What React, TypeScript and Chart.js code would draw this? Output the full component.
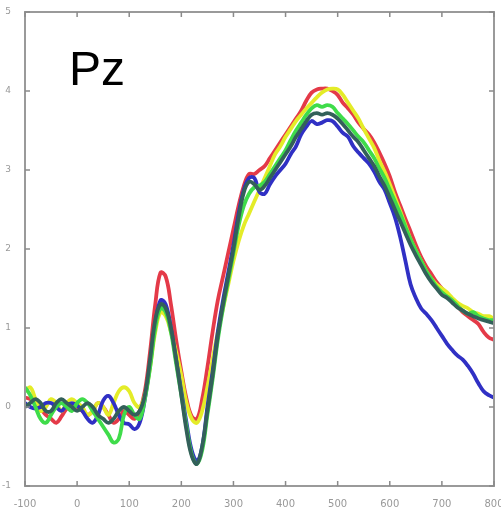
import React, { useEffect, useRef } from "react";
import { Chart, registerables } from "chart.js";

Chart.register(...registerables);

const times: number[] = [];
for (let t = -100; t <= 800; t += 10) times.push(t);

const xTicks = [-100, 0, 100, 200, 300, 400, 500, 600, 700, 800];
const yTicks = [-1, 0, 1, 2, 3, 4, 5];
const channelLabel = "Pz";

const red = [
  0.12, 0.1, 0.05, -0.02, -0.1, -0.15, -0.2, -0.12, -0.02, 0.02,
  0.0, -0.05, -0.1, -0.05, 0.05, 0.0, -0.1, -0.2, -0.15, -0.05,
  -0.1, -0.15, -0.05, 0.2, 0.7, 1.3, 1.7, 1.65, 1.3, 0.85,
  0.45, 0.1, -0.12, -0.15, 0.1, 0.5, 0.95, 1.35, 1.65, 1.95,
  2.25, 2.55, 2.8, 2.95, 2.95, 3.0, 3.05, 3.15, 3.25, 3.35,
  3.45, 3.55, 3.65, 3.75, 3.88, 3.98, 4.02, 4.03, 4.03, 4.0,
  3.95, 3.85, 3.78, 3.7, 3.6, 3.52, 3.45, 3.35, 3.22, 3.08,
  2.92, 2.72, 2.55, 2.38, 2.22, 2.05, 1.9, 1.78, 1.68, 1.58,
  1.5, 1.42, 1.35, 1.28, 1.2, 1.15, 1.1, 1.05, 0.95, 0.88,
  0.85,
];

const blue = [
  0.05, 0.0, -0.02, 0.0, 0.05, 0.05, 0.0, -0.05, 0.02, 0.05,
  0.02, -0.05, -0.15, -0.2, -0.1, 0.08, 0.14, 0.05, -0.1, -0.2,
  -0.22, -0.28, -0.2, 0.1, 0.55, 1.05, 1.35, 1.3, 1.0, 0.6,
  0.2, -0.2, -0.55, -0.68, -0.5, 0.0, 0.45, 0.95, 1.35, 1.7,
  2.05, 2.45, 2.75, 2.9, 2.9, 2.72, 2.7, 2.82, 2.92, 3.0,
  3.08, 3.2, 3.3, 3.45, 3.55, 3.62, 3.58, 3.6, 3.63, 3.62,
  3.55, 3.47, 3.42, 3.3, 3.22, 3.15, 3.08, 2.98, 2.85, 2.75,
  2.58, 2.4, 2.15, 1.85, 1.55, 1.38, 1.25, 1.18, 1.1, 1.0,
  0.9, 0.8, 0.72, 0.65, 0.6, 0.52, 0.42, 0.3, 0.2, 0.15,
  0.12,
];

const green = [
  0.25, 0.15, 0.0, -0.15, -0.2, -0.1, 0.0, 0.05, 0.0, -0.05,
  0.05, 0.1, 0.05, -0.05, -0.15, -0.25, -0.35, -0.45, -0.4, -0.1,
  0.0, -0.1, -0.15, 0.1, 0.5, 1.0, 1.25, 1.2, 0.95, 0.55,
  0.15, -0.25, -0.6, -0.72, -0.55, -0.1, 0.35, 0.85, 1.25, 1.6,
  1.95, 2.3, 2.55, 2.7, 2.78, 2.8, 2.85, 2.95, 3.05, 3.15,
  3.25, 3.38, 3.5, 3.6, 3.7, 3.78, 3.82, 3.8, 3.82, 3.8,
  3.72, 3.65, 3.58, 3.5, 3.42, 3.35, 3.25, 3.15, 3.02, 2.9,
  2.75, 2.6, 2.45, 2.28, 2.12, 1.98, 1.85, 1.72, 1.62, 1.52,
  1.45, 1.4, 1.35, 1.28, 1.22, 1.18, 1.2, 1.15, 1.12, 1.1,
  1.1,
];

const yellow = [
  0.2, 0.25, 0.1, -0.05, 0.0, 0.1, 0.05, -0.05, 0.05, 0.1,
  0.05, 0.0, -0.1, -0.05, 0.05, 0.0, -0.1, 0.05, 0.2, 0.25,
  0.2, 0.05, 0.0, 0.15, 0.5, 0.95, 1.2, 1.15, 0.95, 0.7,
  0.4, 0.05, -0.15, -0.2, -0.05, 0.25, 0.6, 0.95, 1.25, 1.55,
  1.85, 2.1, 2.3, 2.45, 2.6, 2.75, 2.9, 3.05, 3.2, 3.3,
  3.42, 3.52, 3.62, 3.7, 3.78, 3.85, 3.92, 3.98, 4.02, 4.03,
  4.02, 3.95, 3.85, 3.75, 3.65, 3.52, 3.4, 3.28, 3.12, 2.98,
  2.82, 2.65, 2.48, 2.3, 2.12, 1.98, 1.85, 1.72, 1.62, 1.55,
  1.5, 1.45, 1.38, 1.32, 1.28, 1.25, 1.2, 1.18, 1.15, 1.15,
  1.12,
];

const dark = [
  0.0, 0.05, 0.1, 0.05, -0.05, -0.05, 0.05, 0.1, 0.05, 0.0,
  -0.05, 0.0, 0.05, 0.0, -0.1, -0.15, -0.2, -0.15, -0.05, 0.0,
  -0.05, -0.1, -0.05, 0.15, 0.6, 1.1, 1.3, 1.25, 1.0, 0.6,
  0.15, -0.3, -0.62, -0.72, -0.5, -0.05, 0.4, 0.9, 1.3, 1.65,
  2.0, 2.4, 2.72, 2.85, 2.82, 2.75, 2.8, 2.9, 3.0, 3.1,
  3.2, 3.3, 3.42, 3.52, 3.62, 3.7, 3.72, 3.7, 3.72, 3.7,
  3.65, 3.58, 3.5, 3.42, 3.35, 3.25, 3.15, 3.05, 2.92, 2.8,
  2.65, 2.5, 2.35, 2.2, 2.05, 1.92, 1.8, 1.68, 1.58, 1.5,
  1.42, 1.38, 1.32, 1.26, 1.22, 1.18, 1.15, 1.12, 1.1, 1.08,
  1.06,
];

const seriesList = [
  { name: "dark", values: dark, color: "#33605a" },
  { name: "green", values: green, color: "#3fdc4a" },
  { name: "blue", values: blue, color: "#3030c4" },
  { name: "yellow", values: yellow, color: "#e4ec28" },
  { name: "red", values: red, color: "#e43a48" },
];

const framePlugin = {
  id: "frame",
  afterDraw(chart: any) {
    const { ctx, chartArea: a, scales } = chart;
    ctx.save();
    ctx.strokeStyle = "#9a9a9a";
    ctx.lineWidth = 2;
    ctx.strokeRect(a.left, a.top, a.right - a.left, a.bottom - a.top);
    ctx.lineWidth = 1.5;
    ctx.strokeStyle = "#8a8a8a";
    for (const v of xTicks) {
      const x = scales.x.getPixelForValue(v);
      ctx.beginPath();
      ctx.moveTo(x, a.bottom);
      ctx.lineTo(x, a.bottom - 5);
      ctx.moveTo(x, a.top);
      ctx.lineTo(x, a.top + 5);
      ctx.stroke();
    }
    for (const v of yTicks) {
      const y = scales.y.getPixelForValue(v);
      ctx.beginPath();
      ctx.moveTo(a.left, y);
      ctx.lineTo(a.left + 5, y);
      ctx.moveTo(a.right, y);
      ctx.lineTo(a.right - 5, y);
      ctx.stroke();
    }
    ctx.fillStyle = "#000";
    ctx.font = '48px "Liberation Sans", Arial, sans-serif';
    ctx.textBaseline = "alphabetic";
    ctx.fillText(channelLabel, 69, 85);
    ctx.restore();
  },
};

export default function App() {
  const ref = useRef<HTMLCanvasElement>(null);
  useEffect(() => {
    if (!ref.current) return;
    const chart = new Chart(ref.current, {
      type: "line",
      data: {
        datasets: seriesList.map((s) => ({
          label: s.name,
          data: times.map((t, i) => ({ x: t, y: s.values[i] })),
          borderColor: s.color,
          borderWidth: 3.8,
          pointRadius: 0,
          tension: 0.4,
          fill: false,
        })),
      },
      options: {
        animation: false,
        responsive: false,
        maintainAspectRatio: false,
        layout: { padding: { top: 12, right: 7, left: 0, bottom: 0 } },
        plugins: { legend: { display: false }, tooltip: { enabled: false } },
        scales: {
          x: {
            type: "linear",
            min: -100,
            max: 800,
            grid: { display: false },
            border: { display: false },
            afterBuildTicks: (s: any) => {
              s.ticks = xTicks.map((v) => ({ value: v }));
            },
            afterFit: (s: any) => {
              s.height = 26;
              s.paddingLeft = 0;
              s.paddingRight = 0;
            },
            ticks: {
              color: "#999999",
              font: { size: 10, family: "DejaVu Sans" },
              maxRotation: 0,
              autoSkip: false,
              padding: 4,
            },
          },
          y: {
            type: "linear",
            min: -1,
            max: 5,
            grid: { display: false },
            border: { display: false },
            afterBuildTicks: (s: any) => {
              s.ticks = yTicks.map((v) => ({ value: v }));
            },
            afterFit: (s: any) => {
              s.width = 25;
              s.paddingTop = 0;
              s.paddingBottom = 0;
            },
            ticks: {
              color: "#999999",
              font: { size: 9, family: "DejaVu Sans" },
              padding: 6,
            },
          },
        },
      },
      plugins: [framePlugin],
    });
    return () => chart.destroy();
  }, []);
  return (
    <div style={{ position: "fixed", left: 0, top: 0, width: 501, height: 512, background: "#fff" }}>
      <canvas ref={ref} width={501} height={512} style={{ display: "block" }} />
    </div>
  );
}
